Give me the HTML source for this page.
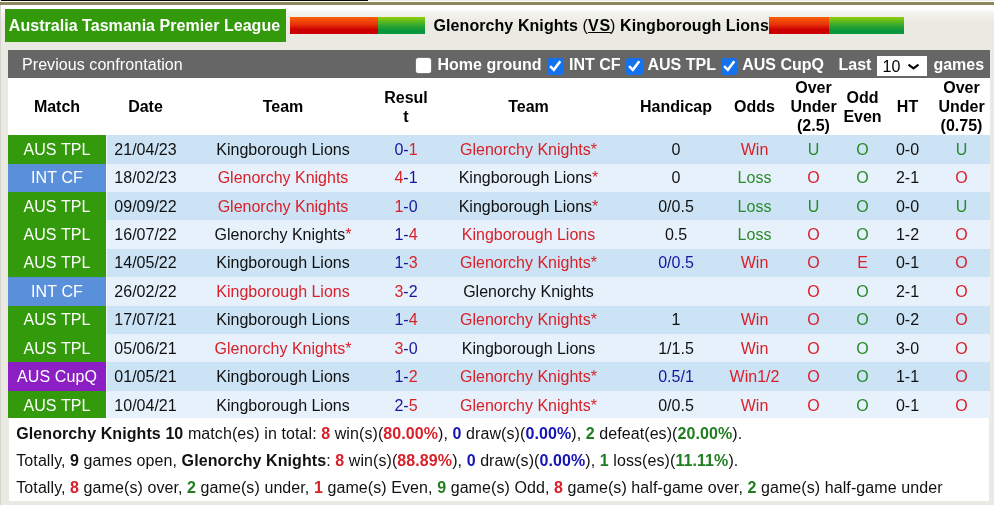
<!DOCTYPE html>
<html lang="en"><head><meta charset="utf-8"><title>Glenorchy Knights vs Kingborough Lions</title>
<style>
html,body{margin:0;padding:0}
body{width:994px;height:505px;overflow:hidden;position:relative;background:#eaeae2;font-family:"Liberation Sans",Arial,sans-serif;font-size:16px;color:#111}
.abs{position:absolute}
#topgrad{left:0;top:0;width:994px;height:24px;background:linear-gradient(#fff 0,#fff 9px,#f6f5f0 12px,#eaeae2 22px)}
#tline{left:0;top:2px;width:994px;height:3px;background:#8f875e}
#tline0{left:0;top:0;width:994px;height:1px;background:#ecece8}
#bline{left:1px;top:0;width:367px;height:1px;background:#0a0a05}
#ledge{left:0;top:5px;width:1.3px;height:500px;background:#d4d4cf}
#league{left:5px;top:9px;width:281px;height:32.5px;background:#339a0b;color:#fff;font-weight:bold;line-height:34px;text-indent:3.8px;letter-spacing:.04px;white-space:nowrap}
.bar{top:17px;height:17px;width:135px}
.bar i{position:absolute;top:0;height:100%;display:block}
.bar .rd{left:0;background:linear-gradient(#f86008 0,#e83008 45%,#cc0000 75%,#cc0000 100%)}
.bar .gn{right:0;background:linear-gradient(#8fce0a 0,#30a830 50%,#0a963c 80%,#0a963c 100%)}
#vs{color:#000;left:433.5px;top:17px;letter-spacing:.08px;font-weight:bold;white-space:nowrap;line-height:18px}
#vs u{text-decoration-thickness:1px}
#gbar{left:8px;top:50px;width:982px;height:27.6px;background:#666;color:#fff}
#gbar .t{position:absolute;top:1px;line-height:28px;white-space:nowrap;font-weight:bold}
.cb{position:absolute;top:8px;width:15.5px;height:15.5px;border-radius:2.5px;box-sizing:border-box}
.cb.off{background:#fff;box-shadow:0 0 0 .5px #8a8a8a}
.cb.on{background:#1472ee;width:16.8px;height:16.5px;border-radius:3px;margin-left:-.3px}
.cb svg{position:absolute;left:0;top:0;width:100%;height:100%}
#sel{position:absolute;left:869px;top:5.7px;width:50px;height:20.3px;background:#fff;color:#000;line-height:21px}
#head{left:8px;top:77.6px;width:982px;height:57.4px;background:#fff}
.h{position:absolute;top:0;height:57.4px;display:flex;align-items:center;justify-content:center;text-align:center;font-weight:bold;line-height:19px;color:#000;margin-left:-8px;box-sizing:border-box}
.row{position:absolute;left:8px;width:982px}
.in{position:absolute;left:0;width:100%;height:20px}
.ro{background:#cbe3f5}
.re{background:#e6f1fb}
.c{position:absolute;top:0;height:100%;text-align:center;white-space:nowrap;margin-left:-8px}
.mbg{position:absolute;left:0;top:0;width:98px;height:100%;box-shadow:1px 0 0 rgba(255,255,255,.55)}
.mt{color:#fff;letter-spacing:.12px}
.mg{background:#339a0b;color:#fff}
.mb{background:#5a8fd9;color:#fff}
.mp{background:#8c1fc4;color:#fff}
.r{color:#d91f28}
.g{color:#2a8a2a}
.b{color:#16169c}
.k{color:#111}
#sum{left:8.6px;top:418px;width:980.5px;height:82.6px;background:#fff}
#sum p{margin:0;position:absolute;left:7.7px;letter-spacing:.085px;white-space:nowrap;line-height:20px}
#sum b.r{color:#d91f28} #sum b.g{color:#1f7d1f} #sum b.b{color:#1414b4}
</style></head><body>
<div class="abs" id="topgrad"></div>
<div class="abs" id="tline0"></div>
<div class="abs" id="tline"></div>
<div class="abs" id="bline"></div>
<div class="abs" id="ledge"></div>
<div class="abs" id="league">Australia Tasmania Premier League</div>
<div class="abs bar" style="left:290px"><i class="rd" style="width:88px"></i><i class="gn" style="width:47px"></i></div>
<div class="abs" id="vs">Glenorchy Knights <span style="font-weight:normal">(</span><u style="letter-spacing:.8px;margin-right:-.8px">VS</u><span style="font-weight:normal">)</span> Kingborough Lions</div>
<div class="abs bar" style="left:769px"><i class="rd" style="width:60px"></i><i class="gn" style="width:75px"></i></div>
<div class="abs" id="gbar">
 <span class="t" style="left:14px;font-weight:normal;letter-spacing:.07px">Previous confrontation</span>
 <span class="cb off" style="left:408.2px;top:7.8px;width:15.2px;height:15.2px"></span><span class="t" style="left:429.5px">Home ground</span>
 <span class="cb on" style="left:539px"><svg viewBox="0 0 16.3 16.3"><path d="M2.9 8.0 L6.6 11.7 L13.0 3.1" fill="none" stroke="#fff" stroke-width="2.5"/></svg></span><span class="t" style="left:561px">INT CF</span>
 <span class="cb on" style="left:618.1px"><svg viewBox="0 0 16.3 16.3"><path d="M2.9 8.0 L6.6 11.7 L13.0 3.1" fill="none" stroke="#fff" stroke-width="2.5"/></svg></span><span class="t" style="left:639.5px">AUS TPL</span>
 <span class="cb on" style="left:712.8px"><svg viewBox="0 0 16.3 16.3"><path d="M2.9 8.0 L6.6 11.7 L13.0 3.1" fill="none" stroke="#fff" stroke-width="2.5"/></svg></span><span class="t" style="left:734.2px">AUS CupQ</span>
 <span class="t" style="left:830.5px">Last</span>
 <span id="sel"><span style="position:absolute;left:5.5px;top:0">10</span><svg style="position:absolute;left:0;top:0" width="50" height="20.3" viewBox="0 0 50 20.3"><path d="M31.5 8.7 L36.5 12.4 L41.5 8.7" fill="none" stroke="#000" stroke-width="2.1"/></svg></span>
 <span class="t" style="left:925.4px">games</span>
</div>
<div class="abs" id="head"><div class="h" style="left:8px;width:98px;padding-top:0px"><span>Match</span></div><div class="h" style="left:106px;width:79px;padding-top:0px"><span>Date</span></div><div class="h" style="left:185px;width:196px;padding-top:0px"><span>Team</span></div><div class="h" style="left:381.5px;width:49px;padding-top:2px"><span>Resul<br>t</span></div><div class="h" style="left:430px;width:197px;padding-top:0px"><span>Team</span></div><div class="h" style="left:627px;width:98px;padding-top:0px"><span>Handicap</span></div><div class="h" style="left:725px;width:59px;padding-top:0px"><span>Odds</span></div><div class="h" style="left:784px;width:59px;padding-top:0px"><span>Over<br>Under<br>(2.5)</span></div><div class="h" style="left:843px;width:39px;padding-top:2px"><span>Odd<br>Even</span></div><div class="h" style="left:882px;width:51px;padding-top:0px"><span>HT</span></div><div class="h" style="left:933px;width:57px;padding-top:0px"><span>Over<br>Under<br>(0.75)</span></div></div>
<div class="row ro" style="top:135.0px;height:28.6px;line-height:20px"><div class="mbg mg"></div><div class="in" style="top:4.75px"><div class="c mt" style="left:8px;width:98px">AUS TPL</div><div class="c " style="left:106px;width:79px">21/04/23</div><div class="c " style="left:185px;width:196px">Kingborough Lions</div><div class="c " style="left:381.5px;width:49px"><span class="b">0-</span><span class="r">1</span></div><div class="c " style="left:430px;width:197px"><span class="r">Glenorchy Knights*</span></div><div class="c " style="left:627px;width:98px"><span class="k">0</span></div><div class="c " style="left:725px;width:59px"><span class="r">Win</span></div><div class="c " style="left:784px;width:59px"><span class="g">U</span></div><div class="c " style="left:843px;width:39px"><span class="g">O</span></div><div class="c " style="left:882px;width:51px">0-0</div><div class="c " style="left:933px;width:57px"><span class="g">U</span></div></div></div>
<div class="row re" style="top:163.6px;height:28.4px;line-height:20px"><div class="mbg mb"></div><div class="in" style="top:4.58px"><div class="c mt" style="left:8px;width:98px">INT CF</div><div class="c " style="left:106px;width:79px">18/02/23</div><div class="c " style="left:185px;width:196px"><span class="r">Glenorchy Knights</span></div><div class="c " style="left:381.5px;width:49px"><span class="r">4</span><span class="b">-1</span></div><div class="c " style="left:430px;width:197px">Kingborough Lions<span class="r">*</span></div><div class="c " style="left:627px;width:98px"><span class="k">0</span></div><div class="c " style="left:725px;width:59px"><span class="g">Loss</span></div><div class="c " style="left:784px;width:59px"><span class="r">O</span></div><div class="c " style="left:843px;width:39px"><span class="g">O</span></div><div class="c " style="left:882px;width:51px">2-1</div><div class="c " style="left:933px;width:57px"><span class="r">O</span></div></div></div>
<div class="row ro" style="top:192.0px;height:28.3px;line-height:20px"><div class="mbg mg"></div><div class="in" style="top:4.61px"><div class="c mt" style="left:8px;width:98px">AUS TPL</div><div class="c " style="left:106px;width:79px">09/09/22</div><div class="c " style="left:185px;width:196px"><span class="r">Glenorchy Knights</span></div><div class="c " style="left:381.5px;width:49px"><span class="r">1</span><span class="b">-0</span></div><div class="c " style="left:430px;width:197px">Kingborough Lions<span class="r">*</span></div><div class="c " style="left:627px;width:98px"><span class="k">0/0.5</span></div><div class="c " style="left:725px;width:59px"><span class="g">Loss</span></div><div class="c " style="left:784px;width:59px"><span class="g">U</span></div><div class="c " style="left:843px;width:39px"><span class="g">O</span></div><div class="c " style="left:882px;width:51px">0-0</div><div class="c " style="left:933px;width:57px"><span class="g">U</span></div></div></div>
<div class="row re" style="top:220.3px;height:28.5px;line-height:20px"><div class="mbg mg"></div><div class="in" style="top:4.74px"><div class="c mt" style="left:8px;width:98px">AUS TPL</div><div class="c " style="left:106px;width:79px">16/07/22</div><div class="c " style="left:185px;width:196px">Glenorchy Knights<span class="r">*</span></div><div class="c " style="left:381.5px;width:49px"><span class="b">1-</span><span class="r">4</span></div><div class="c " style="left:430px;width:197px"><span class="r">Kingborough Lions</span></div><div class="c " style="left:627px;width:98px"><span class="k">0.5</span></div><div class="c " style="left:725px;width:59px"><span class="g">Loss</span></div><div class="c " style="left:784px;width:59px"><span class="r">O</span></div><div class="c " style="left:843px;width:39px"><span class="g">O</span></div><div class="c " style="left:882px;width:51px">1-2</div><div class="c " style="left:933px;width:57px"><span class="r">O</span></div></div></div>
<div class="row ro" style="top:248.8px;height:28.5px;line-height:20px"><div class="mbg mg"></div><div class="in" style="top:4.67px"><div class="c mt" style="left:8px;width:98px">AUS TPL</div><div class="c " style="left:106px;width:79px">14/05/22</div><div class="c " style="left:185px;width:196px">Kingborough Lions</div><div class="c " style="left:381.5px;width:49px"><span class="b">1-</span><span class="r">3</span></div><div class="c " style="left:430px;width:197px"><span class="r">Glenorchy Knights*</span></div><div class="c " style="left:627px;width:98px"><span class="b">0/0.5</span></div><div class="c " style="left:725px;width:59px"><span class="r">Win</span></div><div class="c " style="left:784px;width:59px"><span class="r">O</span></div><div class="c " style="left:843px;width:39px"><span class="r">E</span></div><div class="c " style="left:882px;width:51px">0-1</div><div class="c " style="left:933px;width:57px"><span class="r">O</span></div></div></div>
<div class="row re" style="top:277.3px;height:28.4px;line-height:20px"><div class="mbg mb"></div><div class="in" style="top:4.60px"><div class="c mt" style="left:8px;width:98px">INT CF</div><div class="c " style="left:106px;width:79px">26/02/22</div><div class="c " style="left:185px;width:196px"><span class="r">Kingborough Lions</span></div><div class="c " style="left:381.5px;width:49px"><span class="r">3</span><span class="b">-2</span></div><div class="c " style="left:430px;width:197px">Glenorchy Knights</div><div class="c " style="left:627px;width:98px"><span class="k"></span></div><div class="c " style="left:725px;width:59px"><span class="k"></span></div><div class="c " style="left:784px;width:59px"><span class="r">O</span></div><div class="c " style="left:843px;width:39px"><span class="g">O</span></div><div class="c " style="left:882px;width:51px">2-1</div><div class="c " style="left:933px;width:57px"><span class="r">O</span></div></div></div>
<div class="row ro" style="top:305.7px;height:28.1px;line-height:20px"><div class="mbg mg"></div><div class="in" style="top:4.63px"><div class="c mt" style="left:8px;width:98px">AUS TPL</div><div class="c " style="left:106px;width:79px">17/07/21</div><div class="c " style="left:185px;width:196px">Kingborough Lions</div><div class="c " style="left:381.5px;width:49px"><span class="b">1-</span><span class="r">4</span></div><div class="c " style="left:430px;width:197px"><span class="r">Glenorchy Knights*</span></div><div class="c " style="left:627px;width:98px"><span class="k">1</span></div><div class="c " style="left:725px;width:59px"><span class="r">Win</span></div><div class="c " style="left:784px;width:59px"><span class="r">O</span></div><div class="c " style="left:843px;width:39px"><span class="g">O</span></div><div class="c " style="left:882px;width:51px">0-2</div><div class="c " style="left:933px;width:57px"><span class="r">O</span></div></div></div>
<div class="row re" style="top:333.8px;height:28.3px;line-height:20px"><div class="mbg mg"></div><div class="in" style="top:4.96px"><div class="c mt" style="left:8px;width:98px">AUS TPL</div><div class="c " style="left:106px;width:79px">05/06/21</div><div class="c " style="left:185px;width:196px"><span class="r">Glenorchy Knights*</span></div><div class="c " style="left:381.5px;width:49px"><span class="r">3</span><span class="b">-0</span></div><div class="c " style="left:430px;width:197px">Kingborough Lions</div><div class="c " style="left:627px;width:98px"><span class="k">1/1.5</span></div><div class="c " style="left:725px;width:59px"><span class="r">Win</span></div><div class="c " style="left:784px;width:59px"><span class="r">O</span></div><div class="c " style="left:843px;width:39px"><span class="g">O</span></div><div class="c " style="left:882px;width:51px">3-0</div><div class="c " style="left:933px;width:57px"><span class="r">O</span></div></div></div>
<div class="row ro" style="top:362.1px;height:28.7px;line-height:20px"><div class="mbg mp"></div><div class="in" style="top:5.09px"><div class="c mt" style="left:8px;width:98px">AUS CupQ</div><div class="c " style="left:106px;width:79px">01/05/21</div><div class="c " style="left:185px;width:196px">Kingborough Lions</div><div class="c " style="left:381.5px;width:49px"><span class="b">1-</span><span class="r">2</span></div><div class="c " style="left:430px;width:197px"><span class="r">Glenorchy Knights*</span></div><div class="c " style="left:627px;width:98px"><span class="b">0.5/1</span></div><div class="c " style="left:725px;width:59px"><span class="r">Win1/2</span></div><div class="c " style="left:784px;width:59px"><span class="r">O</span></div><div class="c " style="left:843px;width:39px"><span class="g">O</span></div><div class="c " style="left:882px;width:51px">1-1</div><div class="c " style="left:933px;width:57px"><span class="r">O</span></div></div></div>
<div class="row re" style="top:390.8px;height:27.2px;line-height:20px"><div class="mbg mg"></div><div class="in" style="top:4.82px"><div class="c mt" style="left:8px;width:98px">AUS TPL</div><div class="c " style="left:106px;width:79px">10/04/21</div><div class="c " style="left:185px;width:196px">Kingborough Lions</div><div class="c " style="left:381.5px;width:49px"><span class="b">2-</span><span class="r">5</span></div><div class="c " style="left:430px;width:197px"><span class="r">Glenorchy Knights*</span></div><div class="c " style="left:627px;width:98px"><span class="k">0/0.5</span></div><div class="c " style="left:725px;width:59px"><span class="r">Win</span></div><div class="c " style="left:784px;width:59px"><span class="r">O</span></div><div class="c " style="left:843px;width:39px"><span class="g">O</span></div><div class="c " style="left:882px;width:51px">0-1</div><div class="c " style="left:933px;width:57px"><span class="r">O</span></div></div></div>
<div class="abs" id="sum">
<p style="top:6px"><b>Glenorchy Knights 10</b> match(es) in total: <b class="r">8</b> win(s)(<b class="r">80.00%</b>), <b class="b">0</b> draw(s)(<b class="b">0.00%</b>), <b class="g">2</b> defeat(es)(<b class="g">20.00%</b>).</p>
<p style="top:33px">Totally, <b>9</b> games open, <b>Glenorchy Knights</b>: <b class="r">8</b> win(s)(<b class="r">88.89%</b>), <b class="b">0</b> draw(s)(<b class="b">0.00%</b>), <b class="g">1</b> loss(es)(<b class="g">11.11%</b>).</p>
<p style="top:60px">Totally, <b class="r">8</b> game(s) over, <b class="g">2</b> game(s) under, <b class="r">1</b> game(s) Even, <b class="g">9</b> game(s) Odd, <b class="r">8</b> game(s) half-game over, <b class="g">2</b> game(s) half-game under</p>
</div>
</body></html>
